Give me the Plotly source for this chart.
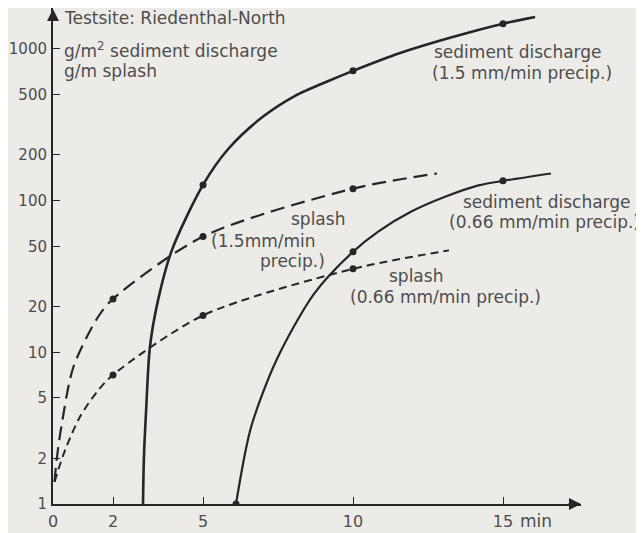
import plotly.graph_objects as go

# curves (time in min, value on log scale)
sed15_t = [3.0, 3.03, 3.1, 3.23, 3.5, 3.96, 5.0, 5.84, 6.96, 8.07, 9.18, 10.0, 11.57, 13.23, 15.0, 16.07]
sed15_v = [1, 2, 4, 10.8, 22, 47, 127, 219, 353, 491, 615, 717, 940, 1185, 1468, 1625]

sed066_t = [6.1, 6.6, 7.45, 8.7, 10.0, 10.84, 11.96, 13.07, 14.18, 15.0, 16.6]
sed066_v = [1, 3.2, 8.9, 24.3, 46, 62.5, 85, 106, 126, 135, 151]

spl15_t = [0.05, 0.12, 0.26, 0.68, 1.5, 2.0, 5.0, 10.0, 12.8]
spl15_v = [1.4, 1.95, 3.07, 8.0, 17.1, 22.5, 58, 120, 151]

spl066_t = [0.05, 0.4, 0.9, 1.5, 2.0, 5.0, 10.0, 13.2]
spl066_v = [1.4, 2.26, 3.76, 5.6, 7.1, 17.5, 35.5, 47]

# measured points (dots)
sed15_dot_t = [5, 10, 15]
sed15_dot_v = [127, 717, 1468]
sed066_dot_t = [6.1, 10, 15]
sed066_dot_v = [1, 46, 135]
spl15_dot_t = [2, 5, 10]
spl15_dot_v = [22.5, 58, 120]
spl066_dot_t = [2, 5, 10]
spl066_dot_v = [7.1, 17.5, 35.5]

x_ticks = [0, 2, 5, 10, 15]
y_ticks = [1, 2, 5, 10, 20, 50, 100, 200, 500, 1000]

ink = '#262626'
txt = '#4d4d4d'
bg = '#ecebe8'
font = 'DejaVu Sans'

fig = go.Figure()

curves = [
    (sed15_t, sed15_v, 2.6, 'solid'),
    (sed066_t, sed066_v, 2.2, 'solid'),
    (spl15_t, spl15_v, 2.2, '14px,7px'),
    (spl066_t, spl066_v, 2.0, '8px,5px'),
]
for t, v, w, d in curves:
    fig.add_trace(go.Scatter(x=t, y=v, mode='lines',
                             line=dict(color=ink, width=w, dash=d, shape='spline', smoothing=0.8),
                             hoverinfo='skip'))

for t, v in [(sed15_dot_t, sed15_dot_v), (sed066_dot_t, sed066_dot_v),
             (spl15_dot_t, spl15_dot_v), (spl066_dot_t, spl066_dot_v)]:
    fig.add_trace(go.Scatter(x=t, y=v, mode='markers',
                             marker=dict(color=ink, size=7), hoverinfo='skip'))

# screen pixel -> paper (page has an 8px body margin, plot spans 53..581 x 8..504)
def px(x):
    return (x - 53) / 528


def py(y):
    return (504 - y) / 496


labels = [
    ('Testsite: Riedenthal-North', 62, 18, 'left'),
    ('g/m<sup>2</sup> sediment discharge', 62, 50, 'left'),
    ('g/m splash', 62, 71, 'left'),
    ('sediment discharge', 432, 52, 'left'),
    ('(1.5 mm/min precip.)', 430, 73, 'left'),
    ('sediment discharge', 633, 202, 'right'),
    ('(0.66 mm/min precip.)', 642, 222, 'right'),
    ('splash', 347, 219, 'right'),
    ('(1.5mm/min', 318, 241, 'right'),
    ('precip.)', 327, 261, 'right'),
    ('splash', 387, 276, 'left'),
    ('(0.66 mm/min precip.)', 348, 297, 'left'),
    ('min', 518, 521, 'left'),
]
for text, x, y, anchor in labels:
    fig.add_annotation(text=text, x=px(x), y=py(y), xref='paper', yref='paper',
                       xanchor=anchor, yanchor='middle', showarrow=False,
                       font=dict(family=font, size=17, color=txt))

# arrow tips on the axes
fig.add_annotation(x=1, y=0, xref='paper', yref='paper', ax=-14, ay=0, text='',
                   showarrow=True, arrowhead=2, arrowsize=1.2, arrowwidth=2, arrowcolor=ink)
fig.add_annotation(x=0, y=1, xref='paper', yref='paper', ax=0, ay=14, text='',
                   showarrow=True, arrowhead=2, arrowsize=1.2, arrowwidth=2, arrowcolor=ink)

fig.update_layout(
    width=636, height=525,
    margin=dict(l=45, r=63, t=0, b=29),
    paper_bgcolor=bg, plot_bgcolor=bg,
    showlegend=False,
    font=dict(family=font, size=15, color=txt),
)
fig.update_xaxes(range=[0, 17.6], showgrid=False, zeroline=False, automargin=False,
                 showline=True, linecolor=ink, linewidth=2,
                 ticks='inside', ticklen=7, tickcolor=ink, tickwidth=1,
                 tickvals=x_ticks, ticktext=[str(v) for v in x_ticks],
                 tickfont=dict(size=16), ticklabelstandoff=2)
fig.update_yaxes(type='log', range=[0, 3.27], showgrid=False, zeroline=False, automargin=False,
                 showline=True, linecolor=ink, linewidth=2,
                 ticks='inside', ticklen=7, tickcolor=ink, tickwidth=1,
                 tickvals=y_ticks, ticktext=[str(v) for v in y_ticks],
                 tickfont=dict(size=15), ticklabelstandoff=1)

fig.write_html("out.html")
